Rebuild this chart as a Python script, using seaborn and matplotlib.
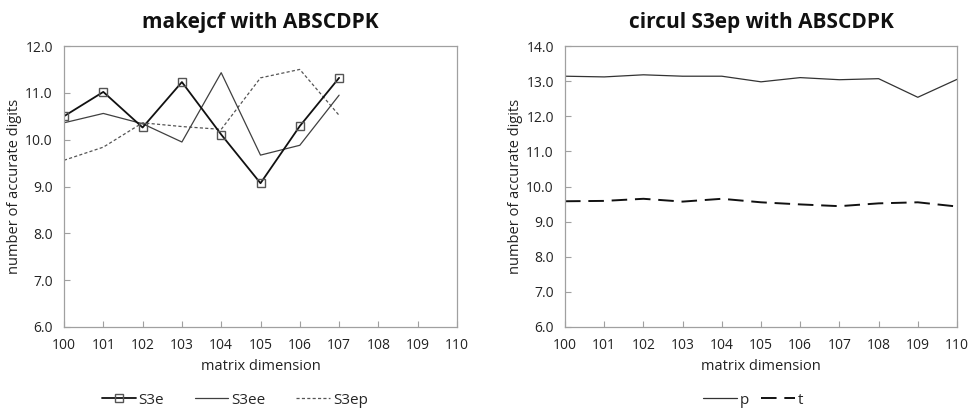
import matplotlib
matplotlib.use("Agg")
import matplotlib.pyplot as plt
import seaborn as sns
import pandas as pd

sns.set_theme(style="white")
plt.rcParams['font.family'] = ['Open Sans', 'DejaVu Sans']

dims_left = [100, 101, 102, 103, 104, 105, 106, 107]
s3e = [10.50, 11.02, 10.26, 11.23, 10.11, 9.07, 10.29, 11.32]
s3ee = [10.36, 10.56, 10.34, 9.95, 11.43, 9.67, 9.88, 10.95]
s3ep = [9.56, 9.84, 10.36, 10.28, 10.22, 11.32, 11.50, 10.52]

dims_right = [100, 101, 102, 103, 104, 105, 106, 107, 108, 109, 110]
p_vals = [13.14, 13.12, 13.18, 13.14, 13.14, 12.98, 13.10, 13.04, 13.07, 12.54, 13.05]
t_vals = [9.58, 9.59, 9.65, 9.57, 9.65, 9.55, 9.49, 9.44, 9.52, 9.55, 9.43]

xticks = list(range(100, 111))
left_yticks = [6.0, 7.0, 8.0, 9.0, 10.0, 11.0, 12.0]
right_yticks = [6.0, 7.0, 8.0, 9.0, 10.0, 11.0, 12.0, 13.0, 14.0]

fig = plt.figure(figsize=(9.72, 4.12), dpi=100)
ax1 = fig.add_axes([64/972, 1 - 327/412, (457-64)/972, (327-46)/412])
ax2 = fig.add_axes([565/972, 1 - 327/412, (957-565)/972, (327-46)/412])

# Left chart
sns.lineplot(x=dims_left, y=s3ep, ax=ax1, color="#555555", lw=0.9,
             linestyle=(0, (2.5, 1.8)), label="S3ep")
sns.lineplot(x=dims_left, y=s3ee, ax=ax1, color="#404040", lw=0.9, label="S3ee")
sns.lineplot(x=dims_left, y=s3e, ax=ax1, color="#111111", lw=1.3, marker="s",
             markersize=5.5, markerfacecolor="none", markeredgecolor="#555555",
             markeredgewidth=1.0, label="S3e")

# Right chart
sns.lineplot(x=dims_right, y=p_vals, ax=ax2, color="#333333", lw=0.9, label="p")
sns.lineplot(x=dims_right, y=t_vals, ax=ax2, color="#111111", lw=1.4,
             linestyle=(0, (8, 4)), label="t")

titles = ["makejcf with ABSCDPK", "circul S3ep with ABSCDPK"]
for ax, yt, ylim, title in [(ax1, left_yticks, (6, 12), titles[0]),
                            (ax2, right_yticks, (6, 14), titles[1])]:
    ax.set_xlim(100, 110)
    ax.set_ylim(*ylim)
    ax.set_xticks(xticks)
    ax.set_xticklabels([str(v) for v in xticks], fontsize=10, color="#222222")
    ax.set_yticks(yt)
    ax.set_yticklabels([f"{v:.1f}" for v in yt], fontsize=10, color="#222222")
    ax.tick_params(axis="both", direction="in", length=4, color="#a0a0a0",
                   width=0.8, pad=8, left=True, bottom=True)
    for s in ax.spines.values():
        s.set_color("#a0a0a0")
        s.set_linewidth(0.9)
    ax.set_xlabel("matrix dimension", fontsize=10.5, color="#222222", labelpad=4)
    ax.set_ylabel("number of accurate digits", fontsize=10.5, color="#222222", labelpad=2)
    ax.set_title(title, fontsize=15, fontweight="bold", color="#111111", pad=13)

# legends
h, l = ax1.get_legend_handles_labels()
order = [2, 1, 0]
ax1.legend([h[i] for i in order], [l[i] for i in order], loc="center",
           bbox_to_anchor=(0.435, -0.26), ncol=3, frameon=False, fontsize=11,
           handlelength=2.2, handletextpad=0.2, columnspacing=2.0)
h2, l2 = ax2.get_legend_handles_labels()
ax2.legend(h2, l2, loc="center", bbox_to_anchor=(0.48, -0.26), ncol=2,
           frameon=False, fontsize=11, handlelength=2.2, handletextpad=0.2,
           columnspacing=0.8)

fig.savefig("out.png", dpi=100)
